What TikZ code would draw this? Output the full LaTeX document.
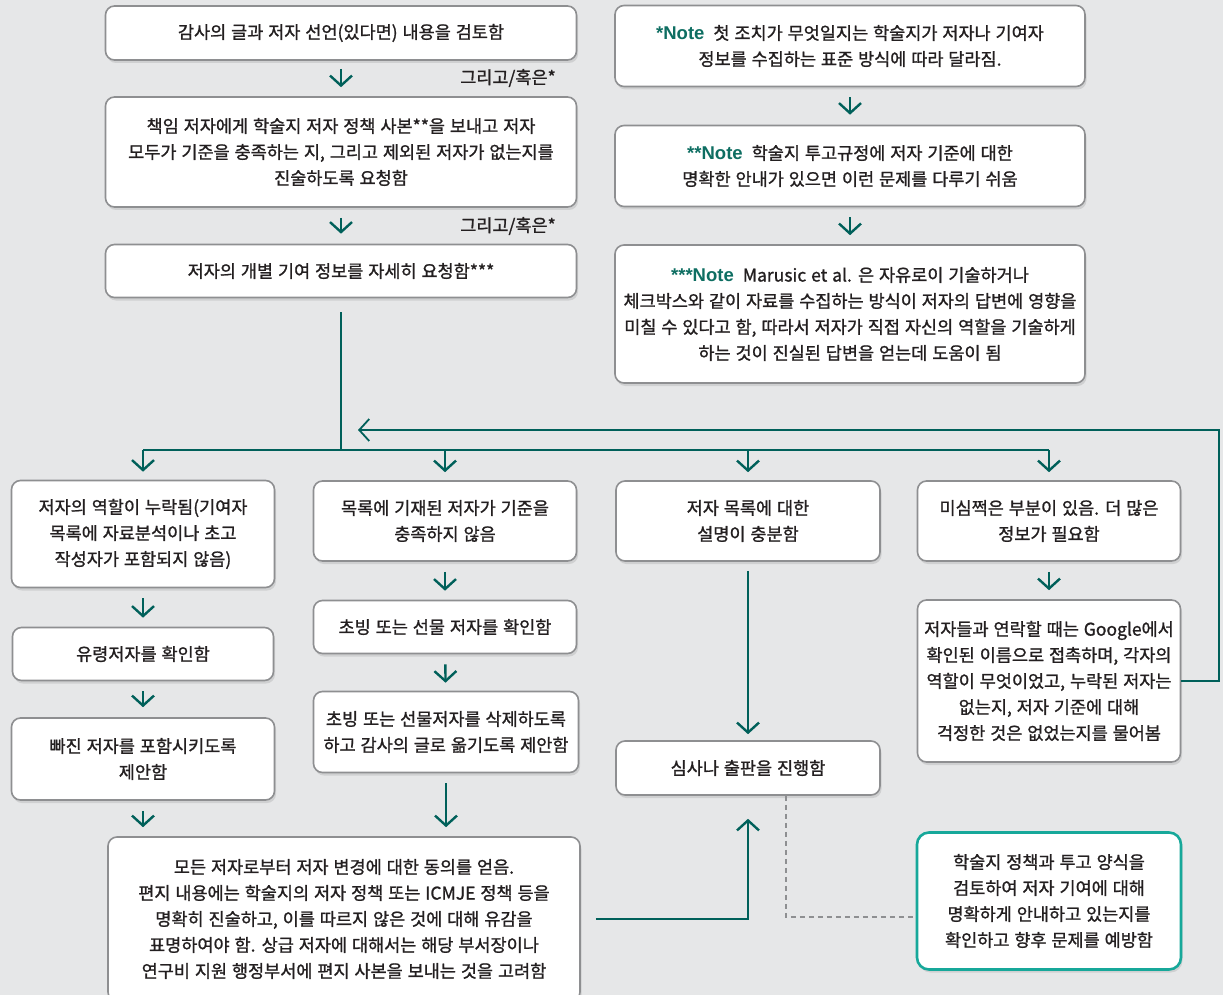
\documentclass[tikz,border=0pt]{standalone}
\usepackage{fontspec}
\setmainfont{Noto Sans CJK KR}[FakeBold=1.1, WordSpace=1.25]
\newfontfamily\notefont{Liberation Sans}
\usetikzlibrary{arrows.meta, shadows, calc}

\definecolor{bggray}{HTML}{E6E7E8}
\definecolor{boxgray}{HTML}{8E8F91}
\definecolor{flowgreen}{HTML}{00605A}
\definecolor{noteteal}{HTML}{0E6E62}
\definecolor{tealline}{HTML}{17A89A}
\definecolor{txt}{HTML}{231F20}

\newcommand{\notehead}[1]{{\notefont\fontsize{18.5}{26}\selectfont\bfseries\color{noteteal}#1Note}\hspace{9pt}}

\tikzset{
  box/.style={draw=boxgray, line width=1.6pt, fill=white, rounded corners=9pt,
    align=center, text=txt, font=\fontsize{17.5}{26}\selectfont, inner sep=0pt,
    drop shadow={shadow xshift=1.5pt, shadow yshift=-3pt, opacity=0.22}},
  policybox/.style={box, draw=tealline, line width=2.6pt, rounded corners=12pt},
  lbl/.style={text=txt, font=\fontsize{17.5}{26}\selectfont, inner sep=0pt},
  link/.style={draw=flowgreen, line width=2.4pt},
  flow/.style={link, -{Straight Barb[length=10pt, width=22pt]}},
  gap/.style={draw=boxgray, line width=2pt, dash pattern=on 5pt off 4pt}
}

\begin{document}
\begin{tikzpicture}[x=1pt, y=-1pt]
	\fill[bggray] (0,0) rectangle (1223,995);
	\useasboundingbox (0,0) rectangle (1223,995);

	\node[box, minimum width=471pt, minimum height=54pt] (review) at (341,33) {감사의 글과 저자 선언(있다면) 내용을 검토함};
	\node[box, minimum width=471pt, minimum height=110pt] (ask) at (341,152) {책임 저자에게 학술지 저자 정책 사본**을 보내고 저자\\모두가 기준을 충족하는 지, 그리고 제외된 저자가 없는지를\\진술하도록 요청함};
	\node[box, minimum width=471pt, minimum height=53pt] (detail) at (341,271) {저자의 개별 기여 정보를 자세히 요청함***};
	\node[lbl] (or1) at (508,78) {그리고/혹은*};
	\node[lbl] (or2) at (508,226) {그리고/혹은*};

	\node[box, minimum width=470pt, minimum height=81pt] (note1) at (850,46) {\notehead{*}첫 조치가 무엇일지는 학술지가 저자나 기여자\\정보를 수집하는 표준 방식에 따라 달라짐.};
	\node[box, minimum width=470pt, minimum height=81pt] (note2) at (850,166) {\notehead{**}학술지 투고규정에 저자 기준에 대한\\명확한 안내가 있으면 이런 문제를 다루기 쉬움};
	\node[box, minimum width=470pt, minimum height=138pt] (note3) at (850,314) {\notehead{***}Marusic et al. 은 자유로이 기술하거나\\체크박스와 같이 자료를 수집하는 방식이 저자의 답변에 영향을\\미칠 수 있다고 함, 따라서 저자가 직접 자신의 역할을 기술하게\\하는 것이 진실된 답변을 얻는데 도움이 됨};

	\node[box, minimum width=263pt, minimum height=107pt] (missing) at (143,534) {저자의 역할이 누락됨(기여자\\목록에 자료분석이나 초고\\작성자가 포함되지 않음)};
	\node[box, minimum width=261pt, minimum height=53pt] (ghost) at (143,654) {유령저자를 확인함};
	\node[box, minimum width=263pt, minimum height=82pt] (addauth) at (143,759) {빠진 저자를 포함시키도록\\제안함};

	\node[box, minimum width=263pt, minimum height=80pt] (unmet) at (445,521) {목록에 기재된 저자가 기준을\\충족하지 않음};
	\node[box, minimum width=263pt, minimum height=53pt] (guest) at (445,627) {초빙 또는 선물 저자를 확인함};
	\node[box, minimum width=265pt, minimum height=81pt] (remove) at (446,732) {초빙 또는 선물저자를 삭제하도록\\하고 감사의 글로 옮기도록 제안함};

	\node[box, minimum width=264pt, minimum height=80pt] (enough) at (748,521) {저자 목록에 대한\\설명이 충분함};
	\node[box, minimum width=264pt, minimum height=54pt] (proceed) at (748,768) {심사나 출판을 진행함};

	\node[box, minimum width=263pt, minimum height=80pt] (doubt) at (1049,521) {미심쩍은 부분이 있음. 더 많은\\정보가 필요함};
	\node[box, minimum width=263pt, minimum height=162pt] (contact) at (1049,681) {저자들과 연락할 때는 Google에서\\확인된 이름으로 접촉하며, 각자의\\역할이 무엇이었고, 누락된 저자는\\없는지, 저자 기준에 대해\\걱정한 것은 없었는지를 물어봄};

	\node[box, minimum width=472pt, minimum height=164pt] (agree) at (344,919) {모든 저자로부터 저자 변경에 대한 동의를 얻음.\\편지 내용에는 학술지의 저자 정책 또는 ICMJE 정책 등을\\명확히 진술하고, 이를 따르지 않은 것에 대해 유감을\\표명하여야 함. 상급 저자에 대해서는 해당 부서장이나\\연구비 지원 행정부서에 편지 사본을 보내는 것을 고려함};
	\node[policybox, minimum width=264pt, minimum height=137pt] (policy) at (1049,901) {학술지 정책과 투고 양식을\\검토하여 저자 기여에 대해\\명확하게 안내하고 있는지를\\확인하고 향후 문제를 예방함};

	\coordinate (bus) at (341,450);
	\coordinate (back) at (358,430);

	\draw[flow, shorten <=8pt, shorten >=9pt] (review) -- (ask);
	\draw[flow, shorten <=10pt, shorten >=10pt] (ask) -- (detail);
	\draw[flow, shorten <=10pt, shorten >=10pt] (note1) -- (note2);
	\draw[flow, shorten <=10pt, shorten >=9pt] (note2) -- (note3);

	\draw[link, shorten <=14pt] (detail) -- (bus);
	\draw[link] (bus -| missing) -- (bus -| doubt);
	\foreach \n in {missing, unmet, enough, doubt}
		\draw[flow, shorten >=8pt] (bus -| \n) -- (\n);

	\draw[flow, shorten <=10pt, shorten >=9pt] (missing) -- (ghost);
	\draw[flow, shorten <=10pt, shorten >=10pt] (ghost) -- (addauth);
	\draw[flow, shorten <=10pt, shorten >=9pt] (addauth) -- (addauth |- agree.north);

	\draw[flow, shorten <=10pt, shorten >=9pt] (unmet) -- (guest);
	\draw[flow, shorten <=10pt, shorten >=8pt] (guest) -- (remove);
	\draw[flow, shorten <=10pt, shorten >=9pt] (remove) -- (remove |- agree.north);

	\draw[flow, shorten <=9pt, shorten >=6pt] (enough) -- (proceed);
	\draw[flow, shorten <=15pt, shorten >=23pt] (agree.east) -| (proceed.south);

	\draw[flow, shorten <=10pt, shorten >=9pt] (doubt) -- (contact);
	\draw[flow, line width=1.8pt] (contact.east) -- ++(38,0) |- (back);

	\draw[gap] ([xshift=38pt]proceed.south) |- ([yshift=-16pt]policy.west);
\end{tikzpicture}
\end{document}
